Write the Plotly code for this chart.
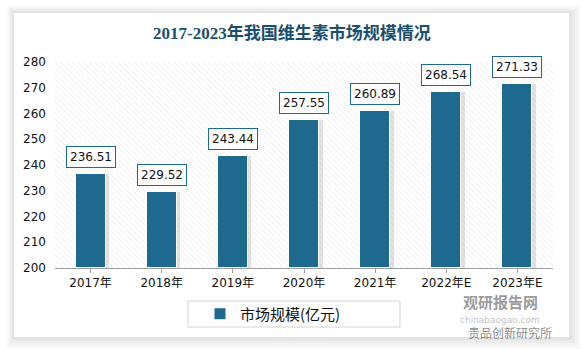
import plotly.graph_objects as go

# Data
years = ["2017年", "2018年", "2019年", "2020年", "2021年", "2022年E", "2023年E"]
market_size = [236.51, 229.52, 243.44, 257.55, 260.89, 268.54, 271.33]
y_ticks = [200, 210, 220, 230, 240, 250, 260, 270, 280]

title_text = "2017-2023年我国维生素市场规模情况"
series_name = "市场规模(亿元)"

# Canvas and plot-area geometry (pixels)
W, H = 583, 349
L, R, T, B = 55, 30, 62, 81

BAR_COLOR = "#1d6a8e"
Y_MIN, Y_MAX = 200, 280


def px_x(px):
    return (px - L) / (W - L - R)


def px_y(py):
    return (H - B - py) / (H - T - B)


xs = list(range(len(years)))

fig = go.Figure()

# Hatched plot background drawn as one wide patterned bar
fig.add_trace(go.Bar(
    x=[(len(years) - 1) / 2], y=[Y_MAX - Y_MIN], base=[Y_MIN],
    width=[len(years)],
    marker=dict(color="white", line=dict(width=0),
                pattern=dict(shape="\\", fgcolor="#cccccc", bgcolor="white",
                             size=4, solidity=0.2)),
    hoverinfo="skip", showlegend=False,
))

# Soft drop shadow behind each bar
fig.add_trace(go.Bar(
    x=[x + 0.02 for x in xs], y=[v - Y_MIN for v in market_size], base=Y_MIN,
    width=0.48,
    marker=dict(color="rgba(150,150,150,0.28)", line=dict(width=0)),
    hoverinfo="skip", showlegend=False,
))

# Market size bars
fig.add_trace(go.Bar(
    x=xs, y=[v - Y_MIN for v in market_size], base=Y_MIN,
    width=0.42, name=series_name,
    marker=dict(color=BAR_COLOR, line=dict(color="white", width=1)),
    showlegend=True,
))

# Boxed value labels
for x, v in zip(xs, market_size):
    fig.add_annotation(
        x=x, y=v, text=f"{v:.2f}", showarrow=False,
        yanchor="bottom", yshift=6,
        font=dict(family="DejaVu Sans", size=12, color="#111111"),
        bgcolor="white", bordercolor=BAR_COLOR, borderwidth=1, borderpad=3,
    )

shapes = []
# Panel shadow layers, outermost first
for off, col in [(12, "#fafafa"), (9, "#f3f3f3"), (6, "#ebebeb"), (3, "#e3e3e3")]:
    shapes.append(dict(
        type="rect", xref="paper", yref="paper", layer="below",
        x0=px_x(14 - off * 0.6), x1=px_x(569 + off),
        y0=px_y(337 + off), y1=px_y(13 - off * 0.6),
        fillcolor=col, line=dict(width=0),
    ))
# White panel
shapes.append(dict(
    type="rect", xref="paper", yref="paper", layer="below",
    x0=px_x(14), x1=px_x(569), y0=px_y(337), y1=px_y(13),
    fillcolor="white", line=dict(width=0),
))
# Legend frame
shapes.append(dict(
    type="rect", xref="paper", yref="paper", layer="below",
    x0=px_x(188), x1=px_x(400), y0=px_y(327), y1=px_y(301),
    fillcolor="white", line=dict(color="#d4d4d4", width=1),
))

# Title
fig.add_annotation(
    x=px_x(292), y=px_y(33), xref="paper", yref="paper",
    text=f"<b>{title_text}</b>", showarrow=False,
    xanchor="center", yanchor="middle",
    font=dict(family="Liberation Serif, Noto Sans CJK SC", size=17, color="#1b4f6e"),
)

# Source marks in the lower right corner
fig.add_annotation(
    x=px_x(500), y=px_y(301), xref="paper", yref="paper",
    text="<b>观研报告网</b>", showarrow=False, xanchor="center", yanchor="middle",
    font=dict(family="Noto Sans CJK SC", size=15, color="rgba(110,110,110,0.7)"),
)
fig.add_annotation(
    x=px_x(500), y=px_y(320), xref="paper", yref="paper",
    text="chinabaogao.com", showarrow=False, xanchor="center", yanchor="middle",
    font=dict(family="DejaVu Sans", size=9, color="rgba(150,150,150,0.6)"),
)
fig.add_annotation(
    x=px_x(510), y=px_y(332), xref="paper", yref="paper",
    text="贵品创新研究所", showarrow=False, xanchor="center", yanchor="middle",
    font=dict(family="Noto Sans CJK SC", size=12, color="rgba(110,110,110,0.8)"),
)

fig.update_layout(
    width=W, height=H,
    margin=dict(l=L, r=R, t=T, b=B, pad=0),
    paper_bgcolor="white", plot_bgcolor="rgba(0,0,0,0)",
    barmode="overlay", bargap=0,
    shapes=shapes,
    showlegend=True,
    legend=dict(
        orientation="h", x=px_x(200), y=px_y(314),
        xanchor="left", yanchor="middle",
        bgcolor="rgba(0,0,0,0)", borderwidth=0,
        font=dict(family="Noto Sans CJK SC, DejaVu Sans", size=15, color="#111111"),
        itemwidth=30,
    ),
    font=dict(family="DejaVu Sans, Noto Sans CJK SC", color="#111111"),
)

fig.update_xaxes(
    range=[-0.5, len(years) - 0.5],
    tickmode="array", tickvals=xs, ticktext=years,
    showgrid=False, zeroline=False,
    showline=True, linecolor="#a0a0a0", linewidth=1,
    ticks="outside", ticklen=4, tickcolor="#a0a0a0",
    tickfont=dict(family="DejaVu Sans, Noto Sans CJK SC", size=12, color="#111111"),
    fixedrange=True,
)
fig.update_yaxes(
    range=[Y_MIN, Y_MAX],
    tickmode="array", tickvals=y_ticks,
    showgrid=False, zeroline=False, showline=False,
    ticks="", ticklabelstandoff=8,
    tickfont=dict(family="DejaVu Sans", size=12, color="#111111"),
    fixedrange=True,
)

fig.write_html("out.html", config={"displayModeBar": False})
